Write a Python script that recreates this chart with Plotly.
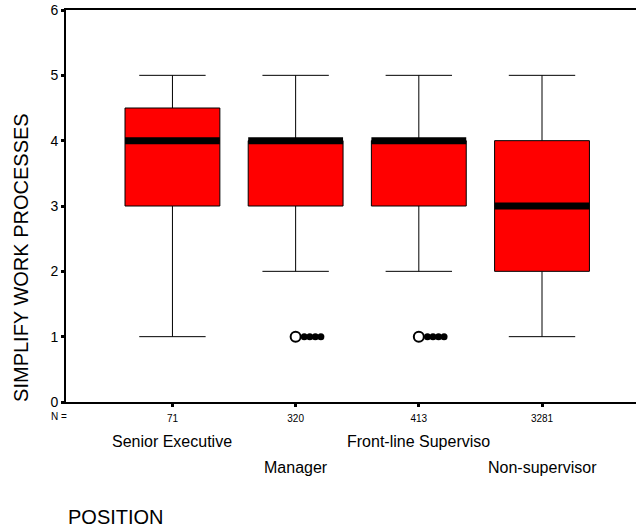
import plotly.graph_objects as go

# Summary statistics for each position group
categories = ["Senior Executive", "Manager", "Front-line Superviso", "Non-supervisor"]
n_counts = [71, 320, 413, 3281]
q1 = [3, 3, 3, 2]
median = [4, 4, 4, 3]
q3 = [4.5, 4, 4, 4]
lower_whisker = [1, 2, 2, 1]
upper_whisker = [5, 5, 5, 5]
outliers = [[], [1, 1, 1, 1, 1], [1, 1, 1, 1, 1], []]

y_ticks = [0, 1, 2, 3, 4, 5, 6]

positions = list(range(1, len(categories) + 1))
BOX_W = 0.77
FONT = "Liberation Sans, Arial, sans-serif"

fig = go.Figure()

for i, p in enumerate(positions):
    fig.add_trace(go.Box(
        x=[p], q1=[q1[i]], median=[median[i]], q3=[q3[i]],
        lowerfence=[lower_whisker[i]], upperfence=[upper_whisker[i]],
        width=BOX_W, whiskerwidth=0.7,
        fillcolor="#ff0000", line=dict(color="black", width=1),
        boxpoints=False, showlegend=False, hoverinfo="skip",
    ))

# Thick median bars
mx, my = [], []
for i, p in enumerate(positions):
    mx += [p - BOX_W / 2, p + BOX_W / 2, None]
    my += [median[i], median[i], None]
fig.add_trace(go.Scatter(x=mx, y=my, mode="lines",
                         line=dict(color="black", width=7),
                         showlegend=False, hoverinfo="skip"))

# Outliers: first as open circle, the rest stacked to the right as dots
for i, p in enumerate(positions):
    vals = outliers[i]
    if not vals:
        continue
    rest = vals[1:]
    fig.add_trace(go.Scatter(
        x=[p + 0.07 + 0.045 * k for k in range(len(rest))], y=rest,
        mode="markers", marker=dict(symbol="circle", size=7, color="black"),
        showlegend=False, hoverinfo="skip"))
    fig.add_trace(go.Scatter(
        x=[p], y=[vals[0]], mode="markers",
        marker=dict(symbol="circle", size=10, color="white",
                    line=dict(width=2, color="black")),
        showlegend=False, hoverinfo="skip"))

annotations = []
for i, p in enumerate(positions):
    row_y = -0.0995 if i % 2 == 0 else -0.166
    annotations.append(dict(x=p, y=row_y, xref="x", yref="paper",
                            text=categories[i], showarrow=False,
                            xanchor="center", yanchor="middle",
                            font=dict(family=FONT, size=16, color="black")))
annotations.append(dict(x=-0.0125, y=-0.038, xref="paper", yref="paper",
                        text="N =", showarrow=False,
                        xanchor="center", yanchor="middle",
                        font=dict(family=FONT, size=10, color="black")))
annotations.append(dict(x=0.0, y=-0.293, xref="paper", yref="paper",
                        text="POSITION", showarrow=False,
                        xanchor="left", yanchor="middle",
                        font=dict(family=FONT, size=20, color="black")))
annotations.append(dict(x=-0.079, y=0.37, xref="paper", yref="paper",
                        text="SIMPLIFY WORK PROCESSES", textangle=-90,
                        showarrow=False, xanchor="center", yanchor="middle",
                        font=dict(family=FONT, size=20, color="black")))

fig.update_layout(
    width=636, height=531,
    margin=dict(l=66, r=0, t=10, b=129),
    paper_bgcolor="white", plot_bgcolor="white",
    font=dict(family=FONT, color="black"),
    annotations=annotations,
    xaxis=dict(
        range=[0.136, 4.763], tickmode="array", tickvals=positions,
        ticktext=[str(n) for n in n_counts],
        tickfont=dict(size=10, color="black"), ticklabelstandoff=3,
        ticks="outside", ticklen=3, tickwidth=3, tickcolor="black",
        showline=True, linecolor="black", linewidth=2, mirror=True,
        showgrid=False, zeroline=False,
    ),
    yaxis=dict(
        range=[0, 6], tickmode="array", tickvals=y_ticks,
        tickfont=dict(size=14, color="black"),
        ticks="outside", ticklen=3, tickwidth=3, tickcolor="black",
        showline=True, linecolor="black", linewidth=2,
        showgrid=False, zeroline=False,
    ),
)

fig.write_html("out.html")
